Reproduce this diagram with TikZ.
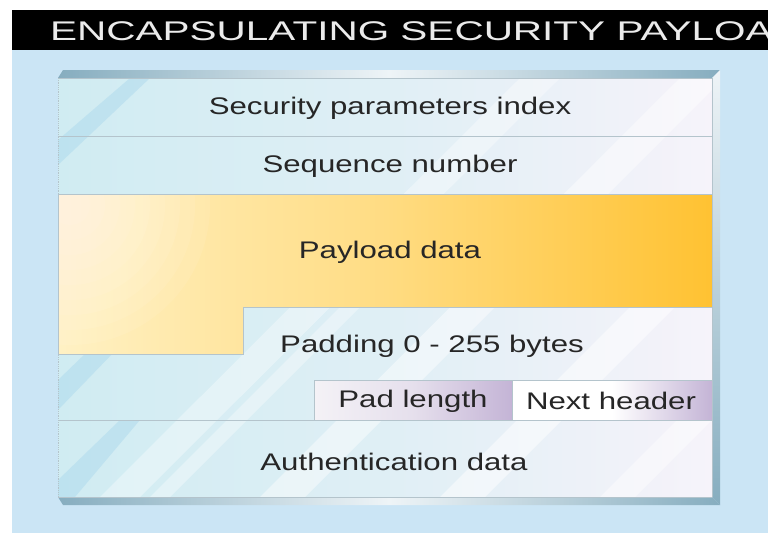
\documentclass[tikz,border=0pt]{standalone}
\usepackage{graphicx}
\usepackage{fontspec}
\setmainfont{Liberation Sans}
\newcommand\hsc[2]{\scalebox{#1}[1]{#2}}
\definecolor{bgblue}{HTML}{CBE5F5}
\definecolor{rowcyan}{HTML}{D0ECF2}
\definecolor{rowlight}{HTML}{F6F3FA}
\definecolor{stripeblue}{HTML}{A8D6EC}
\definecolor{linegrey}{HTML}{B4C4CC}
\definecolor{orlight}{HTML}{FFF1C4}
\definecolor{ordark}{HTML}{FFC232}
\definecolor{lavlight}{HTML}{F4F2F6}
\definecolor{lavdark}{HTML}{C4B4D6}
\definecolor{bevdark}{HTML}{86ADBF}
\definecolor{bevlight}{HTML}{EEF4F7}
\definecolor{txt}{HTML}{262626}
\tikzset{
  lbl/.style={inner sep=0pt, text=txt, font=\fontsize{24}{28}\selectfont},
  rowline/.style={draw=linegrey, line width=0.8pt},
}
\begin{document}
\begin{tikzpicture}[x=1pt,y=-1pt]
\useasboundingbox (0,0) rectangle (768,536);
\fill[white] (0,0) rectangle (768,536);
% blue panel
\fill[bgblue] (12,50) rectangle (768,533);
% title bar
\fill[black] (12,10) rectangle (768,50);
\begin{scope}
\clip (12,10) rectangle (768,50);
\node[anchor=west, inner sep=0pt, text=white!92!black, font=\fontsize{27}{30}\selectfont] (title) at (50,31) {\hsc{1.5}{ENCAPSULATING SECURITY PAYLOAD}};
\end{scope}
% bevels
\shade[left color=bevdark, right color=bevdark, middle color=bevlight] (58,78) -- (63,70) -- (720,70) -- (712,78) -- cycle;
\shade[top color=bevlight, bottom color=bevdark] (712,78) -- (720,70) -- (720,505) -- (712,497) -- cycle;
\shade[left color=bevdark, right color=bevdark, middle color=bevlight] (58,497) -- (712,497) -- (720,505) -- (63,505) -- cycle;
% box background
\shade[left color=rowcyan, right color=rowlight, middle color=rowcyan!60!rowlight] (58,78) rectangle (712,497);
\begin{scope}
\clip (58,78) rectangle (712,497);
\fill[stripeblue, opacity=0.45] (58,140) -- (130,78) -- (150,78) -- (58,165) -- cycle;
\fill[stripeblue, opacity=0.45] (58,380) -- (120,320) -- (145,320) -- (58,410) -- cycle;
\fill[stripeblue, opacity=0.45] (58,480) -- (120,420) -- (140,420) -- (75,497) -- (58,497) -- cycle;
\fill[white, opacity=0.35] (100,497) -- (520,78) -- (560,78) -- (140,497) -- cycle;
\fill[white, opacity=0.45] (260,497) -- (680,78) -- (712,78) -- (712,90) -- (305,497) -- cycle;
\fill[white, opacity=0.5] (440,497) -- (712,225) -- (712,270) -- (485,497) -- cycle;
\fill[white, opacity=0.35] (150,497) -- (420,227) -- (440,227) -- (170,497) -- cycle;
\fill[white, opacity=0.45] (600,497) -- (712,385) -- (712,420) -- (635,497) -- cycle;
\end{scope}
% payload
\shade[left color=orlight, right color=ordark, middle color=ordark!45!orlight]
  (58,194) -- (712,194) -- (712,307) -- (243,307) -- (243,354) -- (58,354) -- cycle;
\begin{scope}
\clip (58,194) -- (712,194) -- (712,307) -- (243,307) -- (243,354) -- (58,354) -- cycle;
\foreach \r in {20,35,...,140} {
  \fill[white, opacity=0.07] (70,205) circle (\r);
}
\end{scope}
\draw[rowline] (58,194) -- (712,194) -- (712,307) -- (243,307) -- (243,354) -- (58,354) -- cycle;
% row lines
\draw[rowline] (58,78) -- (712,78);
\draw[rowline] (58,136) -- (712,136);
\draw[rowline] (58,420) -- (712,420);
\draw[rowline] (58,497) -- (712,497);
\draw[rowline, densely dotted] (58,78) -- (58,497);
\draw[rowline] (712,78) -- (712,497);
% pad length and next header
\shade[left color=lavlight, right color=lavdark, middle color=lavlight!70!lavdark, draw=linegrey, line width=0.8pt] (314,380) rectangle (512,420);
\shade[left color=white, right color=lavdark, middle color=white, draw=linegrey, line width=0.8pt] (512,380) rectangle (712,420);
% labels
\node[lbl] (spi) at (390,108) {\hsc{1.3}{Security parameters index}};
\node[lbl] (seq) at (390,166) {\hsc{1.3}{Sequence number}};
\node[lbl] (pay) at (390,252) {\hsc{1.3}{Payload data}};
\node[lbl] (pad) at (432,346) {\hsc{1.3}{Padding 0 - 255 bytes}};
\node[lbl] (padlen) at (413,401) {\hsc{1.3}{Pad length}};
\node[lbl] (next) at (611,401) {\hsc{1.3}{Next header}};
\node[lbl] (auth) at (394,462) {\hsc{1.3}{Authentication data}};
\end{tikzpicture}
\end{document}
